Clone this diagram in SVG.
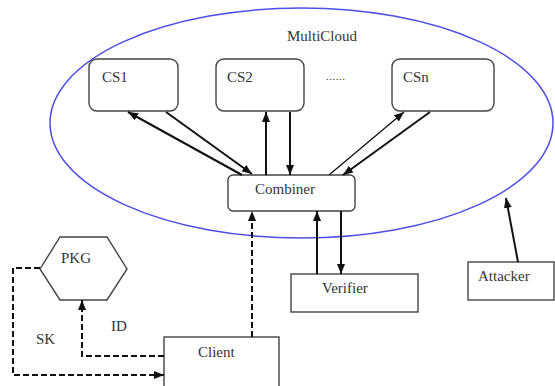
<svg xmlns="http://www.w3.org/2000/svg" width="555" height="386" viewBox="0 0 555 386">
<style>
.box{fill:#fff;stroke:#444;stroke-width:1.4}
.t{font-family:'Liberation Serif','Times New Roman','DejaVu Serif',Times,serif;font-size:15px;fill:#333}
.a{fill:none;stroke:#111;stroke-width:2}
.thin{stroke-width:1.3}
.d{fill:none;stroke:#111;stroke-width:2;stroke-dasharray:6,3}
</style>
<defs>
<marker id="ah" markerUnits="userSpaceOnUse" markerWidth="10" markerHeight="8" refX="10" refY="4" orient="auto">
<path d="M0,0 L10,4 L0,8 z" fill="#111"/>
</marker>
</defs>
<rect width="555" height="386" fill="#fff"/>
<g id="multicloud">
<ellipse cx="301.5" cy="123" rx="251.5" ry="115" fill="none" stroke="#4d4de8" stroke-width="1.5"/>
<text class="t" x="287" y="41" font-family="Liberation Serif, serif">MultiCloud</text>
<text class="t" x="326" y="80" style="font-size:11px;letter-spacing:0.5px">......</text>
</g>
<g id="cs1">
<rect class="box" x="89" y="59" width="89" height="52" rx="8"/>
<text class="t" x="102" y="82">CS1</text>
</g>
<g id="cs2">
<rect class="box" x="216" y="59" width="88" height="52" rx="8"/>
<text class="t" x="227" y="82">CS2</text>
</g>
<g id="csn">
<rect class="box" x="392" y="59" width="102" height="52" rx="8"/>
<text class="t" x="403" y="82">CSn</text>
</g>
<g id="combiner">
<rect class="box" x="228" y="175" width="127" height="36" rx="5"/>
<text class="t" x="255" y="194">Combiner</text>
</g>
<g id="verifier">
<rect class="box" x="291" y="274" width="127" height="38"/>
<text class="t" x="322" y="293">Verifier</text>
</g>
<g id="attacker">
<rect class="box" x="468" y="262" width="86" height="38"/>
<text class="t" x="478" y="281">Attacker</text>
</g>
<g id="pkg">
<polygon class="box" points="60,237 107,237 127,269 107,300 60,300 40,269"/>
<text class="t" x="61" y="263">PKG</text>
</g>
<g id="client">
<rect class="box" x="164" y="337" width="115" height="52"/>
<text class="t" x="198" y="357">Client</text>
</g>
<g id="connectors">
<line class="a" x1="242" y1="175" x2="128" y2="112" marker-end="url(#ah)"/>
<line class="a" x1="166" y1="112" x2="252" y2="174" marker-end="url(#ah)"/>
<line class="a" x1="266" y1="175" x2="266" y2="112" marker-end="url(#ah)"/>
<line class="a" x1="290" y1="112" x2="290" y2="175" marker-end="url(#ah)"/>
<line class="a thin" x1="329" y1="175" x2="404" y2="112" marker-end="url(#ah)"/>
<line class="a" x1="430" y1="112" x2="343" y2="175" marker-end="url(#ah)"/>
<line class="a" x1="317" y1="274" x2="317" y2="211" marker-end="url(#ah)"/>
<line class="a" x1="341" y1="211" x2="341" y2="274" marker-end="url(#ah)"/>
<line class="a" x1="518" y1="262" x2="506" y2="198" marker-end="url(#ah)"/>
<line class="d" x1="252" y1="337" x2="252" y2="211" marker-end="url(#ah)"/>
<polyline class="d" points="164,356 82,356 82,300" marker-end="url(#ah)"/>
<polyline class="d" points="40,268 13,268 13,375 164,375" marker-end="url(#ah)"/>
<text class="t" x="36" y="344">SK</text>
<text class="t" x="111" y="331">ID</text>
</g>
</svg>
